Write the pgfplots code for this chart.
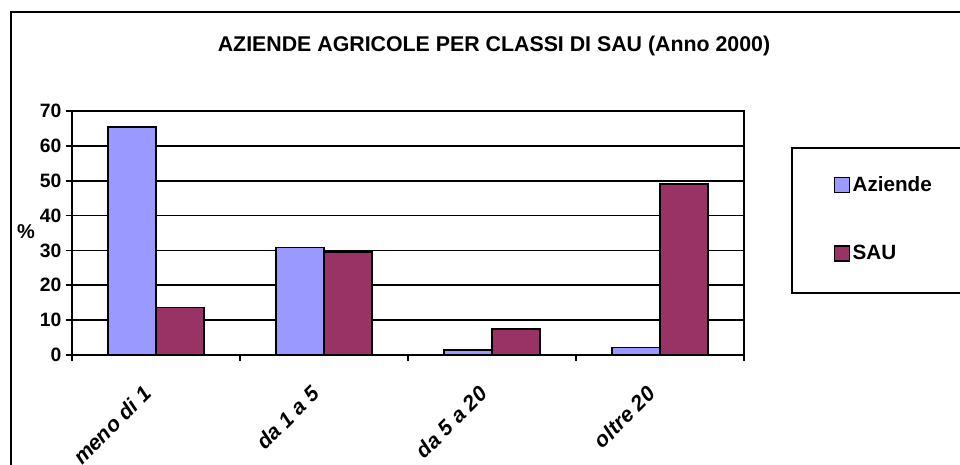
\documentclass[border=0pt]{standalone}
\usepackage{pgfplots}
\pgfplotsset{compat=1.18}
\usepackage{fontspec}
\setmainfont{Liberation Sans}
\definecolor{azBlue}{HTML}{9999FF}
\definecolor{sauRed}{HTML}{993366}
\pgfplotsset{sqleg/.style={legend image code/.code={\draw[##1,draw=black,line width=1pt] (0pt,-5.6pt) rectangle (11.2pt,5.6pt);}}}

\begin{document}
\begin{tikzpicture}
\useasboundingbox (0pt,0pt) rectangle (720pt,348pt);
\begin{scope}
\clip (0pt,0pt) rectangle (720pt,348pt);
\draw[line width=1.6pt] (8.25pt,-8pt) -- (8.25pt,339pt) -- (735pt,339pt);
\draw[line width=1.4pt] (594pt,128.25pt) rectangle (735pt,237pt);
\end{scope}
\node[font=\bfseries\fontsize{16}{19}\selectfont] at (370.5pt,313.5pt) {AZIENDE AGRICOLE PER CLASSI DI SAU (Anno 2000)};
\node[font=\bfseries\fontsize{15}{18}\selectfont] at (19.5pt,174pt) {\%};
\begin{axis}[at={(54pt,81.75pt)}, anchor=origin, scale only axis,
  width=504pt, height=183pt,
  ybar=0pt, bar width=36pt,
  xmin=0, xmax=4, ymin=0, ymax=70,
  ytick={0,10,...,70},
  xtick={0.5,1.5,2.5,3.5},
  xticklabels={meno di 1,da 1 a 5,da 5 a 20,oltre 20},
  minor xtick={0,1,2,3,4},
  major x tick style={draw=none},
  major tick length=4.5pt, minor tick length=4.5pt,
  xticklabel style={rotate=45, anchor=north east, xshift=-16.6pt, yshift=-1.4pt,
      font=\bfseries\itshape\fontsize{16}{19}\selectfont},
  ymajorgrids, major grid style={black, line width=1.3pt},
  axis line style={line width=1.3pt},
  tick style={black, line width=1.3pt},
  tick align=outside, xtick pos=bottom, ytick pos=left,
  yticklabel style={font=\bfseries\fontsize{14.5}{17}\selectfont},
  /pgf/number format/assume math mode=true,
  clip=false,
  legend style={draw=none, fill=none, at={(rel axis cs:1.133,0.557)}, anchor=west,
    row sep=35pt, inner sep=0pt,
    font=\bfseries\fontsize{15.5}{18}\selectfont},
  legend cell align=left]
\addplot[fill=azBlue, draw=black, line width=1.1pt, sqleg] coordinates {(0.5,65.4) (1.5,30.8) (2.5,1.4) (3.5,2.1)};
\addlegendentry{Aziende}
\addplot[fill=sauRed, draw=black, line width=1.1pt, sqleg] coordinates {(0.5,13.6) (1.5,29.5) (2.5,7.4) (3.5,49.1)};
\addlegendentry{SAU}
\end{axis}
\end{tikzpicture}
\end{document}
